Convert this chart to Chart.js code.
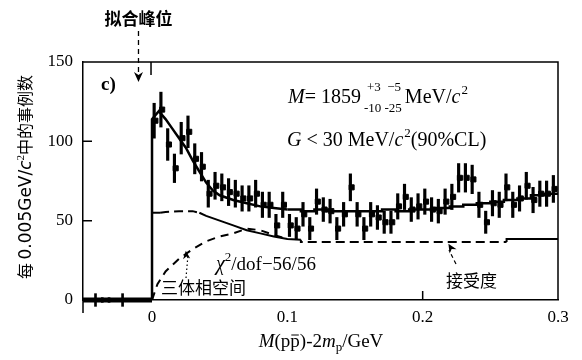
<!DOCTYPE html>
<html lang="zh">
<head>
<meta charset="UTF-8">
<script src="https://cdn.jsdelivr.net/npm/chart.js@4.4.1/dist/chart.umd.min.js"></script>
<style>
    body { margin: 0; background: #fff; }
    canvas { display: block; }
</style>
<title>M(pp̄)-2mp</title>
</head>
<body>
<canvas id="chartCanvas" width="582" height="360"></canvas>
<script>
// bins of 0.005 GeV above threshold
const posX = [
    0.0025, 0.0075, 0.0125, 0.0175, 0.0225, 0.0275, 0.0325, 0.0375, 0.0425, 0.0475,
    0.0525, 0.0575, 0.0625, 0.0675, 0.0725, 0.0775, 0.0825, 0.0875, 0.0925, 0.0975,
    0.1025, 0.1075, 0.1125, 0.1175, 0.1225, 0.1275, 0.1325, 0.1375, 0.1425, 0.1475,
    0.1525, 0.1575, 0.1625, 0.1675, 0.1725, 0.1775, 0.1825, 0.1875, 0.1925, 0.1975,
    0.2025, 0.2075, 0.2125, 0.2175, 0.2225, 0.2275, 0.2325, 0.2375, 0.2425, 0.2475,
    0.2525, 0.2575, 0.2625, 0.2675, 0.2725, 0.2775, 0.2825, 0.2875, 0.2925, 0.2975
];
const posCounts = [
    113, 120, 98, 83, 102, 106, 89, 84, 67, 72,
    71, 68, 67, 64, 64, 67, 60, 60, 47, 60,
    47, 45, 54, 45, 62, 57, 56, 45, 54, 71,
    54, 45, 54, 52, 49, 49, 59, 65, 57, 59,
    62, 57, 56, 62, 65, 77, 77, 76, 60, 49,
    61, 60, 71, 60, 64, 72, 63, 67, 67, 70
];
const posErr = [
    11, 11, 10, 9, 10, 10, 9.5, 9, 8.5, 8.5,
    8.5, 8.5, 8.5, 8, 8, 8.5, 8, 8, 7, 8,
    7, 7, 7.5, 7, 8, 7.5, 7.5, 7, 7.5, 8.5,
    7.5, 7, 7.5, 7.5, 7, 7, 8, 8, 7.5, 8,
    8, 7.5, 7.5, 8, 8, 9, 9, 9, 8, 7,
    8, 8, 8.5, 8, 8, 8.5, 8, 8, 8, 8.5
];

// below threshold
const negX = [-0.0475, -0.0425, -0.0375, -0.0325, -0.0275, -0.0225, -0.0175, -0.0125, -0.0075, -0.0025];
const negCounts = [0, 0, 0, 0, 0, 0, 0, 0, 0, 0];
const negErr = [0, 4, 1.5, 1.5, 0, 4, 0, 0, 0, 0];
const bandX = [-0.051, 0];
const bandY = [0, 0];

// fit curve
const fitX = [0, 0, 0.005, 0.01, 0.015, 0.02, 0.025, 0.03, 0.035, 0.04, 0.045, 0.05, 0.06, 0.07, 0.08, 0.09, 0.1];
const fitY = [0, 114, 119, 114, 108, 102, 96, 88, 81, 74, 69, 66, 63, 61, 59, 58, 57];
const fitStepX = [0.1, 0.11, 0.12, 0.13, 0.14, 0.15, 0.16, 0.17, 0.18, 0.19, 0.2, 0.21, 0.22, 0.23, 0.24, 0.25, 0.26, 0.27, 0.28, 0.29, 0.3];
const fitStepY = [57, 57, 56, 57, 56, 56, 56, 56, 57, 56, 57, 57, 58, 59, 60, 61, 62, 63, 64, 66, 67];

// acceptance
const accX = [0, 0.006, 0.01, 0.02, 0.03, 0.035, 0.04, 0.05, 0.06, 0.07, 0.08, 0.09, 0.1, 0.11, 0.11, 0.2, 0.262, 0.262, 0.3];
const accY = [55, 55, 55.5, 56, 56, 55, 53, 50, 47, 44, 42, 40, 38.5, 38, 36.5, 36.5, 36.5, 38.5, 38.5];

// three-body phase space
const psX = [0, 0.004, 0.01, 0.015, 0.02, 0.03, 0.04, 0.05, 0.06, 0.07, 0.08, 0.09, 0.1];
const psY = [0, 10, 18, 22, 26, 32, 37, 40, 42, 45, 44, 41, 38.5];

const xTicks = [0, 0.1, 0.2, 0.3];
const yTicks = [0, 50, 100, 150];

const SERIF = '"Liberation Serif", "DejaVu Serif", serif';
const CJK = '"Noto Sans CJK SC", sans-serif';

const pts = (xs, ys) => xs.map((x, i) => ({ x: x, y: ys[i] }));
const errs = (xs, ys, es) => xs.map((x, i) => ({ x: x, y: [ys[i] - es[i], ys[i] + es[i]] }));

function isDashedAcc(x0) {
    return (x0 >= 0.005 && x0 < 0.035) || (x0 >= 0.11 && x0 < 0.262);
}

// draw a row of text pieces, returns end x
function drawRuns(ctx, x, y, parts, measureOnly) {
    parts.forEach(p => {
        ctx.font = p.f;
        if (!measureOnly) ctx.fillText(p.t, x, y + (p.dy || 0));
        x += ctx.measureText(p.t).width + (p.dx || 0);
    });
    return x;
}

function arrowHead(ctx, x, y, angle, size) {
    ctx.save();
    ctx.translate(x, y);
    ctx.rotate(angle);
    ctx.beginPath();
    ctx.moveTo(0, 0);
    ctx.lineTo(-size, -size * 0.45);
    ctx.lineTo(-size * 0.7, 0);
    ctx.lineTo(-size, size * 0.45);
    ctx.closePath();
    ctx.fill();
    ctx.restore();
}

const decor = {
    id: 'decor',
    afterDraw(chart) {
        const { ctx, chartArea: a, scales } = chart;
        const sx = scales.x, sy = scales.y;
        ctx.save();
        ctx.strokeStyle = '#000';
        ctx.fillStyle = '#000';
        ctx.lineWidth = 1.5;

        // frame top + right
        ctx.beginPath();
        ctx.moveTo(a.left, a.top);
        ctx.lineTo(a.right, a.top);
        ctx.lineTo(a.right, a.bottom);
        ctx.stroke();

        // inward ticks
        ctx.beginPath();
        [50, 100].forEach(v => {
            const py = sy.getPixelForValue(v);
            ctx.moveTo(a.left, py);
            ctx.lineTo(a.left + 9, py);
        });
        const p02 = sx.getPixelForValue(0.2);
        ctx.moveTo(p02, a.bottom);
        ctx.lineTo(p02, a.bottom - 9);
        const p0 = sx.getPixelForValue(0);
        ctx.moveTo(p0 - 1, a.top);
        ctx.lineTo(p0 - 1, a.top + 13);
        ctx.moveTo(a.left, a.bottom);
        ctx.lineTo(a.left, a.bottom + 13);
        ctx.stroke();

        // fitted peak label + arrow
        const pk = sx.getPixelForValue(-0.01);
        ctx.font = 'bold 17px ' + CJK;
        ctx.textAlign = 'center';
        ctx.textBaseline = 'alphabetic';
        ctx.fillText('拟合峰位', pk, 25);
        ctx.setLineDash([5, 4]);
        ctx.lineWidth = 1.3;
        ctx.beginPath();
        ctx.moveTo(pk, 31);
        ctx.lineTo(pk, 74);
        ctx.stroke();
        ctx.setLineDash([]);
        arrowHead(ctx, pk, 82, Math.PI / 2, 10);

        // panel label
        ctx.textAlign = 'left';
        ctx.font = 'bold 19px ' + SERIF;
        ctx.fillText('c)', 101, 90);

        // mass result
        const big = '20px ' + SERIF, bigI = 'italic 20px ' + SERIF, small = '13px ' + SERIF;
        let x = drawRuns(ctx, 288, 103, [
            { t: 'M', f: bigI },
            { t: '= 1859', f: big }
        ]);
        ctx.font = small;
        ctx.fillText('+3  \u22125', x + 6, 91);
        ctx.fillText('-10 -25', x + 3, 112);
        x += ctx.measureText('-10 -25').width + 6;
        x = drawRuns(ctx, x, 103, [
            { t: 'MeV/', f: big },
            { t: 'c', f: bigI }
        ]);
        drawRuns(ctx, x + 1, 94, [{ t: '2', f: small }]);

        x = drawRuns(ctx, 287, 146, [
            { t: 'G', f: bigI },
            { t: ' < 30 MeV/', f: big },
            { t: 'c', f: bigI }
        ]);
        x = drawRuns(ctx, x + 1, 137, [{ t: '2', f: small }]);
        drawRuns(ctx, x, 146, [{ t: '(90%CL)', f: big }]);

        // chi2
        x = drawRuns(ctx, 216, 270, [{ t: '\u03c7', f: bigI }]);
        x = drawRuns(ctx, x, 261, [{ t: '2', f: small }]);
        drawRuns(ctx, x, 270, [{ t: '/dof\u221256/56', f: '19px ' + SERIF }]);

        // three-body phase space label
        ctx.font = '17px ' + CJK;
        ctx.fillText('三体相空间', 161, 294);
        ctx.setLineDash([1.5, 2.5]);
        ctx.lineWidth = 1.2;
        ctx.beginPath();
        ctx.moveTo(186, 278);
        ctx.lineTo(188, 255);
        ctx.stroke();
        ctx.setLineDash([]);
        arrowHead(ctx, sx.getPixelForValue(0.025), sy.getPixelForValue(31), -Math.PI / 2 - 0.1, 8);

        // acceptance label
        ctx.fillText('接受度', 446, 287);
        ctx.setLineDash([4, 3]);
        ctx.beginPath();
        ctx.moveTo(456, 264);
        ctx.lineTo(449, 250);
        ctx.stroke();
        ctx.setLineDash([]);
        arrowHead(ctx, sx.getPixelForValue(0.219), sy.getPixelForValue(35.5), -Math.PI / 2 - 0.55, 9);

        // x axis title
        const xt = [
            { t: 'M', f: 'italic 19px ' + SERIF },
            { t: '(p', f: '19px ' + SERIF },
            { t: 'p', f: '19px ' + SERIF },
            { t: ')-2', f: '19px ' + SERIF },
            { t: 'm', f: 'italic 19px ' + SERIF },
            { t: 'p', f: '13px ' + SERIF, dy: 4 },
            { t: '/GeV', f: '19px ' + SERIF }
        ];
        const xw = drawRuns(ctx, 0, 0, xt, true);
        let xs = 321 - xw / 2;
        xs = drawRuns(ctx, xs, 347, xt.slice(0, 2));
        ctx.font = '19px ' + SERIF;
        const pw = ctx.measureText('p').width;
        ctx.lineWidth = 1;
        ctx.beginPath();
        ctx.moveTo(xs + 1, 335);
        ctx.lineTo(xs + pw - 1, 335);
        ctx.stroke();
        drawRuns(ctx, xs, 347, xt.slice(2));

        // y axis title
        const yt = [
            { t: '每 ', f: '16px ' + CJK },
            { t: '0.005GeV/', f: '17px "DejaVu Sans", sans-serif' },
            { t: 'c', f: 'italic 17px "DejaVu Sans", sans-serif' },
            { t: '2', f: '11px ' + SERIF, dy: -7 },
            { t: '中的事例数', f: '16px ' + CJK }
        ];
        const yw = drawRuns(ctx, 0, 0, yt, true);
        ctx.translate(31, 177);
        ctx.rotate(-Math.PI / 2);
        drawRuns(ctx, -yw / 2, 0, yt);
        ctx.restore();
    }
};

const ctx = document.getElementById('chartCanvas').getContext('2d');
new Chart(ctx, {
    type: 'line',
    data: {
        datasets: [
            {
                label: 'data',
                data: pts(posX, posCounts),
                showLine: false,
                pointStyle: 'rect',
                pointRadius: 3.6,
                pointBackgroundColor: '#000',
                pointBorderColor: '#000',
                order: 0
            },
            {
                type: 'bar',
                label: 'errors',
                data: errs(posX, posCounts, posErr),
                backgroundColor: '#000',
                borderWidth: 0,
                barThickness: 2.5,
                order: 1
            },
            {
                type: 'bar',
                label: 'errors below',
                data: errs(negX, negCounts, negErr),
                backgroundColor: '#000',
                borderWidth: 0,
                barThickness: 2,
                clip: false,
                order: 1
            },
            {
                label: 'below threshold',
                data: pts(bandX, bandY),
                borderColor: '#000',
                borderWidth: 5,
                pointRadius: 0,
                clip: false,
                order: 2
            },
            {
                label: 'fit',
                data: pts(fitX, fitY),
                borderColor: '#000',
                borderWidth: 2.5,
                pointRadius: 0,
                order: 2
            },
            {
                label: 'fit (steps)',
                data: pts(fitStepX, fitStepY),
                borderColor: '#000',
                borderWidth: 2.5,
                pointRadius: 0,
                stepped: 'after',
                order: 2
            },
            {
                label: 'acceptance',
                data: pts(accX, accY),
                borderColor: '#000',
                borderWidth: 2,
                pointRadius: 0,
                segment: {
                    borderDash: c => isDashedAcc(c.p0.parsed.x) ? [9, 5] : undefined
                },
                order: 3
            },
            {
                label: 'phase space',
                data: pts(psX, psY),
                borderColor: '#000',
                borderWidth: 2,
                borderDash: [8, 6],
                pointRadius: 0,
                order: 3
            }
        ]
    },
    options: {
        responsive: false,
        animation: false,
        layout: { padding: { top: 62, right: 24, left: 0, bottom: 0 } },
        plugins: {
            legend: { display: false },
            tooltip: { enabled: false }
        },
        scales: {
            x: {
                type: 'linear',
                min: -0.051,
                max: 0.3,
                offset: false,
                afterBuildTicks: s => { s.ticks = xTicks.map(v => ({ value: v })); },
                afterFit: s => { s.height = 60; },
                grid: { display: false, drawTicks: false, offset: false },
                border: { display: true, color: '#000', width: 1.5 },
                ticks: {
                    color: '#000',
                    padding: 7,
                    maxRotation: 0,
                    font: { family: SERIF, size: 17 },
                    callback: v => String(v)
                }
            },
            y: {
                type: 'linear',
                min: 0,
                max: 150,
                afterBuildTicks: s => { s.ticks = yTicks.map(v => ({ value: v })); },
                afterFit: s => { s.width = 83; },
                grid: { display: false, drawTicks: false },
                border: { display: true, color: '#000', width: 1.5 },
                ticks: {
                    color: '#000',
                    padding: 10,
                    font: { family: SERIF, size: 17 },
                    callback: v => String(v)
                }
            }
        }
    },
    plugins: [decor]
});
</script>
</body>
</html>
